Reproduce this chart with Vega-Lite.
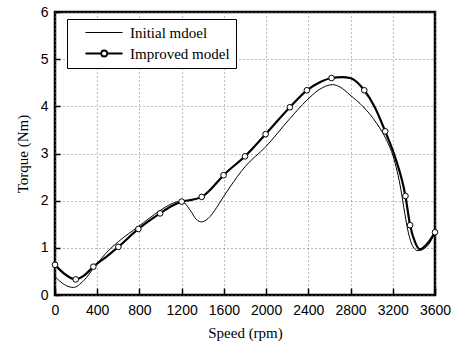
{
  "$schema": "https://vega.github.io/schema/vega-lite/v6.json",
  "width": 380,
  "height": 283,
  "autosize": {"type": "none"},
  "padding": {"left": 55, "top": 12, "right": 20, "bottom": 46},
  "background": "white",
  "config": {
    "view": {"stroke": "black", "strokeWidth": 2.5},
    "axis": {
      "domain": false,
      "grid": true,
      "gridColor": "#777777",
      "gridDash": [1, 3],
      "gridWidth": 1,
      "labelFont": "Liberation Sans",
      "labelFontSize": 14,
      "labelColor": "black",
      "labelOverlap": false,
      "labelFlush": false,
      "titleFont": "Liberation Serif",
      "titleFontSize": 15,
      "titleFontWeight": "normal",
      "titleColor": "black"
    }
  },
  "datasets": {
    "curves": [
      {"speed": 0, "torque": 0.39, "model": "Initial mdoel"},
      {"speed": 90, "torque": 0.22, "model": "Initial mdoel"},
      {"speed": 174, "torque": 0.16, "model": "Initial mdoel"},
      {"speed": 270, "torque": 0.3, "model": "Initial mdoel"},
      {"speed": 379, "torque": 0.61, "model": "Initial mdoel"},
      {"speed": 480, "torque": 0.88, "model": "Initial mdoel"},
      {"speed": 600, "torque": 1.13, "model": "Initial mdoel"},
      {"speed": 790, "torque": 1.45, "model": "Initial mdoel"},
      {"speed": 995, "torque": 1.79, "model": "Initial mdoel"},
      {"speed": 1100, "torque": 1.93, "model": "Initial mdoel"},
      {"speed": 1200, "torque": 1.99, "model": "Initial mdoel"},
      {"speed": 1280, "torque": 1.8, "model": "Initial mdoel"},
      {"speed": 1340, "torque": 1.6, "model": "Initial mdoel"},
      {"speed": 1390, "torque": 1.55, "model": "Initial mdoel"},
      {"speed": 1450, "torque": 1.62, "model": "Initial mdoel"},
      {"speed": 1530, "torque": 1.85, "model": "Initial mdoel"},
      {"speed": 1595, "torque": 2.08, "model": "Initial mdoel"},
      {"speed": 1658, "torque": 2.29, "model": "Initial mdoel"},
      {"speed": 1800, "torque": 2.72, "model": "Initial mdoel"},
      {"speed": 1995, "torque": 3.14, "model": "Initial mdoel"},
      {"speed": 2225, "torque": 3.74, "model": "Initial mdoel"},
      {"speed": 2386, "torque": 4.13, "model": "Initial mdoel"},
      {"speed": 2500, "torque": 4.35, "model": "Initial mdoel"},
      {"speed": 2630, "torque": 4.46, "model": "Initial mdoel"},
      {"speed": 2700, "torque": 4.41, "model": "Initial mdoel"},
      {"speed": 2795, "torque": 4.24, "model": "Initial mdoel"},
      {"speed": 2921, "torque": 3.99, "model": "Initial mdoel"},
      {"speed": 3047, "torque": 3.64, "model": "Initial mdoel"},
      {"speed": 3142, "torque": 3.28, "model": "Initial mdoel"},
      {"speed": 3205, "torque": 2.93, "model": "Initial mdoel"},
      {"speed": 3278, "torque": 2.22, "model": "Initial mdoel"},
      {"speed": 3305, "torque": 1.85, "model": "Initial mdoel"},
      {"speed": 3340, "torque": 1.4, "model": "Initial mdoel"},
      {"speed": 3393, "torque": 1.02, "model": "Initial mdoel"},
      {"speed": 3440, "torque": 0.94, "model": "Initial mdoel"},
      {"speed": 3520, "torque": 1.02, "model": "Initial mdoel"},
      {"speed": 3600, "torque": 1.32, "model": "Initial mdoel"},
      {"speed": 0, "torque": 0.64, "model": "Improved model"},
      {"speed": 100, "torque": 0.43, "model": "Improved model"},
      {"speed": 196, "torque": 0.33, "model": "Improved model"},
      {"speed": 280, "torque": 0.42, "model": "Improved model"},
      {"speed": 363, "torque": 0.6, "model": "Improved model"},
      {"speed": 480, "torque": 0.8, "model": "Improved model"},
      {"speed": 600, "torque": 1.02, "model": "Improved model"},
      {"speed": 790, "torque": 1.4, "model": "Improved model"},
      {"speed": 995, "torque": 1.73, "model": "Improved model"},
      {"speed": 1100, "torque": 1.88, "model": "Improved model"},
      {"speed": 1200, "torque": 1.98, "model": "Improved model"},
      {"speed": 1300, "torque": 2.02, "model": "Improved model"},
      {"speed": 1390, "torque": 2.08, "model": "Improved model"},
      {"speed": 1500, "torque": 2.3, "model": "Improved model"},
      {"speed": 1597, "torque": 2.54, "model": "Improved model"},
      {"speed": 1800, "torque": 2.94, "model": "Improved model"},
      {"speed": 1995, "torque": 3.41, "model": "Improved model"},
      {"speed": 2225, "torque": 3.98, "model": "Improved model"},
      {"speed": 2386, "torque": 4.34, "model": "Improved model"},
      {"speed": 2500, "torque": 4.5, "model": "Improved model"},
      {"speed": 2620, "torque": 4.6, "model": "Improved model"},
      {"speed": 2720, "torque": 4.62, "model": "Improved model"},
      {"speed": 2795, "torque": 4.6, "model": "Improved model"},
      {"speed": 2930, "torque": 4.34, "model": "Improved model"},
      {"speed": 3030, "torque": 3.98, "model": "Improved model"},
      {"speed": 3128, "torque": 3.47, "model": "Improved model"},
      {"speed": 3221, "torque": 2.93, "model": "Improved model"},
      {"speed": 3320, "torque": 2.1, "model": "Improved model"},
      {"speed": 3364, "torque": 1.48, "model": "Improved model"},
      {"speed": 3409, "torque": 1.13, "model": "Improved model"},
      {"speed": 3456, "torque": 0.97, "model": "Improved model"},
      {"speed": 3520, "torque": 1.07, "model": "Improved model"},
      {"speed": 3600, "torque": 1.33, "model": "Improved model"}
    ],
    "markers": [
      {"speed": 0, "torque": 0.64},
      {"speed": 196, "torque": 0.33},
      {"speed": 363, "torque": 0.6},
      {"speed": 600, "torque": 1.02},
      {"speed": 790, "torque": 1.4},
      {"speed": 995, "torque": 1.73},
      {"speed": 1200, "torque": 1.98},
      {"speed": 1390, "torque": 2.08},
      {"speed": 1597, "torque": 2.54},
      {"speed": 1800, "torque": 2.94},
      {"speed": 1995, "torque": 3.41},
      {"speed": 2225, "torque": 3.98},
      {"speed": 2386, "torque": 4.34},
      {"speed": 2620, "torque": 4.6},
      {"speed": 2930, "torque": 4.34},
      {"speed": 3128, "torque": 3.47},
      {"speed": 3320, "torque": 2.1},
      {"speed": 3364, "torque": 1.48},
      {"speed": 3600, "torque": 1.33}
    ]
  },
  "encoding": {
    "x": {
      "field": "speed",
      "type": "quantitative",
      "scale": {"domain": [0, 3600], "nice": false},
      "axis": {
        "title": "Speed (rpm)",
        "values": [0, 400, 800, 1200, 1600, 2000, 2400, 2800, 3200, 3600],
        "format": "d",
        "offset": -7,
        "ticks": true,
        "tickSize": 7,
        "tickColor": "black",
        "tickWidth": 1.5,
        "tickOpacity": 1,
        "labelPadding": 8,
        "titlePadding": 8
      }
    },
    "y": {
      "field": "torque",
      "type": "quantitative",
      "scale": {"domain": [0, 6], "nice": false},
      "axis": {
        "title": "Torque (Nm)",
        "values": [0, 1, 2, 3, 4, 5, 6],
        "format": "d",
        "offset": -5,
        "ticks": true,
        "tickSize": 5,
        "tickColor": "black",
        "tickWidth": 1.5,
        "tickOpacity": 1,
        "labelPadding": 7,
        "titlePadding": 10
      }
    }
  },
  "layer": [
    {
      "data": {"name": "curves"},
      "transform": [{"filter": "datum.model === 'Initial mdoel'"}],
      "mark": {"type": "line", "interpolate": "monotone", "strokeWidth": 1, "clip": true},
      "encoding": {
        "color": {
          "field": "model",
          "type": "nominal",
          "scale": {"domain": ["Initial mdoel", "Improved model"], "range": ["black", "black"]},
          "legend": {
            "title": null,
            "orient": "none",
            "legendX": 12,
            "legendY": 7,
            "fillColor": "white",
            "strokeColor": "black",
            "padding": 6,
            "rowPadding": 5,
            "symbolSize": 100,
            "labelOffset": 42,
            "labelFont": "Liberation Serif",
            "labelFontSize": 15,
            "labelColor": "black",
            "labelLimit": 300,
            "encode": {
              "symbols": {
                "update": {
                  "shape": {"signal": "datum.value === 'Improved model' ? 'M1,0H4.14M5.34,0H8.4M4.14,0A0.6,0.6 0 1,0 5.34,0A0.6,0.6 0 1,0 4.14,0' : 'M1,0H8.4'"},
                  "strokeWidth": {"signal": "datum.value === 'Improved model' ? 1.8 : 1"},
                  "fill": {"value": "white"},
                  "stroke": {"value": "black"},
                  "opacity": {"value": 1}
                }
              }
            }
          }
        }
      }
    },
    {
      "data": {"name": "curves"},
      "transform": [{"filter": "datum.model === 'Improved model'"}],
      "mark": {"type": "line", "interpolate": "monotone", "strokeWidth": 2.2, "clip": true},
      "encoding": {
        "color": {"field": "model", "type": "nominal"}
      }
    },
    {
      "data": {"name": "markers"},
      "mark": {"type": "point", "shape": "circle", "size": 32, "filled": true, "fill": "white", "stroke": "black", "strokeWidth": 1, "opacity": 1}
    }
  ]
}
